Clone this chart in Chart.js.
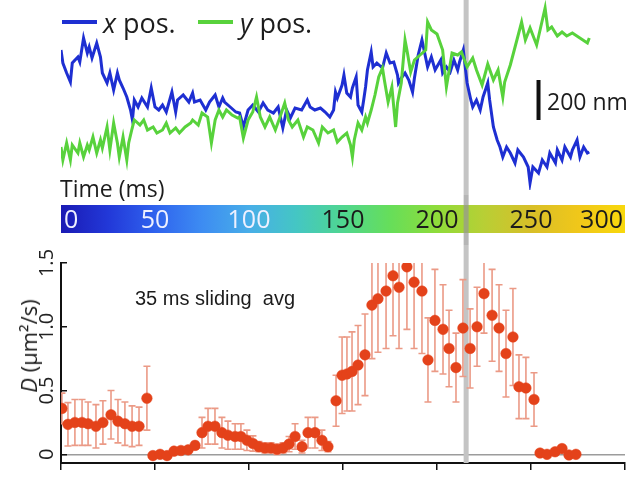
<!DOCTYPE html>
<html>
<head>
<meta charset="utf-8">
<script src="https://cdn.jsdelivr.net/npm/chart.js@4.4.0/dist/chart.umd.min.js"></script>
<style>
  html, body { margin: 0; padding: 0; background: #fff; }
  #fig { position: relative; width: 631px; height: 481px; overflow: hidden;
         font-family: "Open Sans", sans-serif; color: #1c1c1c; }
  #fig canvas { position: absolute; left: 0; }
  .lbl { position: absolute; white-space: pre; line-height: 1; }
  .key { position: absolute; height: 4px; }
</style>
</head>
<body>
<div id="fig">
  <canvas id="traces" width="631" height="195" style="top:0;width:631px;height:195px"></canvas>
  <canvas id="cbar" width="631" height="50" style="top:195px;width:631px;height:50px"></canvas>
  <canvas id="diff" width="631" height="236" style="top:245px;width:631px;height:236px"></canvas>

  <div class="key" style="left:62px;top:20px;width:35px;background:#1e2fd2"></div>
  <div class="lbl" style="left:103px;top:9px;font-size:27px"><i>x</i> pos.</div>
  <div class="key" style="left:198px;top:20px;width:35px;background:#58d23c"></div>
  <div class="lbl" style="left:240px;top:9px;font-size:27px"><i>y</i> pos.</div>

  <div class="lbl" style="left:547px;top:90px;font-size:23px">200 nm</div>
  <div class="lbl" style="left:60px;top:177px;font-size:23px">Time (ms)</div>
  <div class="lbl" style="left:135px;top:288px;font-size:20px;font-family:'Liberation Sans',Arial,sans-serif">35 ms sliding  avg</div>
  <div class="lbl" style="left:28px;top:346px;font-size:22px;transform:translate(-50%,-50%) rotate(-90deg)"><i>D</i> (μm²/s)</div>
</div>

<script>
// ---- trajectory: x and y position (nm) against time (ms) ----
const xPosTime = [0,1,3,5,6,9,10,12,14,15,16.5,19,21,22,24.5,26,28,30,31,33,
  35,37,38,39,41,43,46,48,50,52,54,56,59,61,62,65,68,70,71,74,
  77,79,82,84,86,87,90,93,95,97,99.5,102,105,107.5,110,113,115.5,118,120,122,
  124.5,128,131,132.5,135,138,140.5,143,145,146,147,149.5,150.5,152,154,155,157,158,160,161,
  162,163,165,166,168,171,173,175,177,179,179.5,181,183,185,187,188,190,192,195,197,
  199,202,203,205,207,209,211,212,214,216,218,219,221,223,224.5,227,228,230,232,233.5,
  235,237,239,241.5,243,246,248.5,249.5,251,254,256,258.5,260,263,264,266.5,268,271,272,274.5,
  276,278,280,281];
const xPosNm = [700,635,585,540,635,665,640,760,685,715,660,735,665,585,535,585,500,585,550,510,
  465,400,350,450,415,460,415,510,415,400,425,390,490,390,450,475,440,485,440,450,
  400,440,475,415,460,440,415,390,385,315,400,425,390,435,400,385,415,310,400,360,
  410,400,450,415,400,410,390,365,400,490,460,525,575,485,465,510,565,425,390,450,
  515,600,690,615,635,610,685,635,640,575,535,560,585,550,490,560,675,750,615,665,
  600,650,585,615,590,650,600,640,700,535,450,415,450,400,465,535,450,315,250,215,
  165,215,185,135,200,165,115,35,115,85,150,115,185,135,200,150,215,165,200,250,
  165,215,185,190];

const yPosTime = [0,1,3,5,6,9,10,12,14,15,17,19,21,22,24.5,26,28,30,31,33,
  35,36,38,39,42,44,46,49,51,54,56,58,61,63,66,69,70,73,75,78,
  80,82,84,86,88,91,94,95,97,99.5,102,104,106,108.5,111,114,116.5,119,121,123,
  126,129,131,134,137,139,142,145,147,149.5,152,154,155,156,158,160,162,163,165,167,
  169,171,172,174,176,178,179,181,183,184,186,188,191,194,195,197,200,203,205,208,
  211,213,216,219,221,224,227,230,232.5,235,236,239,242.5,245,247,249.5,253,257.5,259,261,
  264,266.5,269,272,276,280,281];
const yPosNm = [215,150,235,150,225,185,235,165,225,200,265,185,250,210,315,200,335,235,165,265,
  150,235,315,350,325,350,300,315,285,300,335,285,310,285,315,335,350,325,385,365,
  235,350,400,365,400,375,360,365,260,350,390,465,365,315,365,300,365,435,350,315,
  350,265,315,300,235,315,285,300,240,265,285,225,165,250,335,300,365,335,400,475,
  565,610,550,440,515,315,435,535,750,700,590,650,675,700,840,800,780,700,515,685,
  675,690,615,660,600,525,630,550,600,465,540,625,750,840,750,810,725,910,800,815,
  770,790,770,785,760,735,760];

// ---- diffusion coefficient, 35 ms sliding average ----
const dTime = [0.5,3.7,7.4,11.2,14.4,18.6,22.3,26.6,30.3,34.0,37.8,41.5,45.7,
  48.9,52.7,56.4,60.1,63.8,67.6,71.3,75.0,78.2,81.9,85.6,88.8,92.6,95.7,98.9,102.1,105.3,108.5,
  111.7,114.9,118.1,121.3,124.5,128.2,131.4,135.1,138.8,142.0,
  146.3,149.5,152.1,154.8,158.0,161.7,165.4,168.6,172.9,176.6,179.8,184.0,187.8,192.0,195.2,
  198.9,203.2,206.4,210.1,213.8,217.6,221.3,225.0,229.3,233.0,236.7,240.4,243.6,247.3,251.6,
  254.8,258.5,262.8,266.5,270.2,273.9];
const dValue = [0.36,0.235,0.25,0.25,0.24,0.22,0.25,0.31,0.26,0.24,0.22,0.22,0.44,
  -0.01,0.0,-0.01,0.025,0.03,0.035,0.07,0.17,0.22,0.22,0.17,0.15,0.14,0.14,0.11,0.085,0.06,0.05,
  0.05,0.04,0.05,0.08,0.14,0.06,0.17,0.17,0.11,0.06,
  0.42,0.62,0.63,0.65,0.70,0.78,1.17,1.22,1.28,1.40,1.31,1.47,1.35,1.28,0.74,
  1.05,0.98,0.83,0.68,0.99,0.83,1.00,1.26,1.09,0.99,0.79,0.92,0.53,0.52,0.43,
  0.01,0.0,0.02,0.045,-0.005,0.0];
const dErr = [0.12,0.17,0.18,0.18,0.17,0.17,0.17,0.19,0.17,0.17,0.16,0.15,0.25,
  0.01,0.01,0.01,0.015,0.02,0.02,0.03,0.12,0.14,0.14,0.12,0.11,0.1,0.1,0.08,0.06,0.04,0.04,
  0.04,0.04,0.04,0.06,0.1,0.05,0.12,0.12,0.08,0.04,
  0.2,0.3,0.29,0.31,0.31,0.32,0.42,0.42,0.45,0.47,0.48,0.49,0.52,0.49,0.33,
  0.40,0.35,0.30,0.27,0.38,0.31,0.31,0.31,0.36,0.34,0.34,0.38,0.25,0.24,0.21,
  0,0,0,0,0,0];
const dTicks = [0, 0.5, 1, 1.5];
const timeTicks = [0, 50, 100, 150, 200, 250, 300];

// ---- colour scale for time ----
const cbarStops = [0, 25, 50, 75, 100, 125, 150, 175, 200, 225, 250, 275, 300];
const cbarColors = ['#1a1ab4','#2238d8','#2f62ee','#3d8cf2','#48aee8','#44c6c4','#4fd690',
  '#66de5a','#8fdc3a','#b8cf35','#d8bf28','#f0c71a','#f8d80c'];

// time of the highlighted frame, and the 200 nm scale bar
const markTime = 215.5;
const scaleBarTime = 254;
const scaleBarBase = 350;
const scaleBarLength = 200;

const T_MIN = 0, T_MAX = 300;

// vertical gray marker at markTime
const markerLine = {
  id: 'markerLine',
  beforeDatasetsDraw(chart, args, opts) { if (!opts.front) drawMarker(chart, opts); },
  afterDatasetsDraw(chart, args, opts) { if (opts.front) drawMarker(chart, opts); }
};
function drawMarker(chart, opts) {
  const x = chart.scales.x.getPixelForValue(markTime);
  const c = chart.ctx;
  c.save();
  c.strokeStyle = opts.color;
  c.lineWidth = 5;
  c.beginPath();
  c.moveTo(x, 0);
  c.lineTo(x, opts.toAxis ? chart.chartArea.bottom : chart.height);
  c.stroke();
  c.restore();
}

// 200 nm scale bar
const scaleBar = {
  id: 'scaleBar',
  afterDatasetsDraw(chart) {
    const {ctx, scales: {x, y}} = chart;
    const px = x.getPixelForValue(scaleBarTime);
    ctx.save();
    ctx.strokeStyle = '#111';
    ctx.lineWidth = 4;
    ctx.beginPath();
    ctx.moveTo(px, y.getPixelForValue(scaleBarBase));
    ctx.lineTo(px, y.getPixelForValue(scaleBarBase + scaleBarLength));
    ctx.stroke();
    ctx.restore();
  }
};

// time labels written inside the colour bar, placed by the x scale
const cbarLabels = {
  id: 'cbarLabels',
  afterDatasetsDraw(chart) {
    const {ctx, chartArea, scales: {x}} = chart;
    ctx.save();
    ctx.font = '25px "Open Sans", sans-serif';
    ctx.textBaseline = 'alphabetic';
    timeTicks.forEach((v, i) => {
      let px = x.getPixelForValue(v);
      if (i === 0) { ctx.textAlign = 'left'; px += 3; }
      else if (i === timeTicks.length - 1) { ctx.textAlign = 'right'; px -= 2; }
      else ctx.textAlign = 'center';
      ctx.fillStyle = v <= 100 ? '#eef0ff' : '#1b1b1b';
      ctx.fillText(String(v), px, chartArea.bottom - 5);
    });
    ctx.restore();
  }
};

// symmetric error bars with caps
const errorBars = {
  id: 'errorBars',
  beforeDatasetsDraw(chart) {
    const {ctx, chartArea, scales: {x, y}} = chart;
    ctx.save();
    ctx.beginPath();
    ctx.rect(chartArea.left, chartArea.top, chartArea.width, chartArea.height);
    ctx.clip();
    ctx.strokeStyle = '#eb9a86';
    ctx.lineWidth = 1.6;
    dTime.forEach((t, i) => {
      const e = dErr[i];
      if (!e) return;
      const px = x.getPixelForValue(t);
      const lo = y.getPixelForValue(dValue[i] - e);
      const hi = y.getPixelForValue(dValue[i] + e);
      ctx.beginPath();
      ctx.moveTo(px, lo); ctx.lineTo(px, hi);
      ctx.moveTo(px - 3.5, lo); ctx.lineTo(px + 3.5, lo);
      ctx.moveTo(px - 3.5, hi); ctx.lineTo(px + 3.5, hi);
      ctx.stroke();
    });
    ctx.restore();
  }
};

Chart.defaults.font.family = '"Open Sans", sans-serif';
Chart.defaults.color = '#1c1c1c';

// ---- trajectory traces ----
new Chart(document.getElementById('traces'), {
  type: 'line',
  data: {
    datasets: [
      { label: 'y pos.', data: yPosTime.map((t, i) => ({x: t, y: yPosNm[i]})),
        borderColor: '#58d23c', borderWidth: 3, pointRadius: 0, tension: 0 },
      { label: 'x pos.', data: xPosTime.map((t, i) => ({x: t, y: xPosNm[i]})),
        borderColor: '#1e2fd2', borderWidth: 3, pointRadius: 0, tension: 0 }
    ]
  },
  options: {
    responsive: false, animation: false, events: [],
    layout: { padding: { left: 61, right: 6, top: 0, bottom: 5 } },
    plugins: { legend: { display: false }, tooltip: { enabled: false },
               markerLine: { color: '#c4c4c4', front: false, toAxis: false } },
    scales: {
      x: { type: 'linear', min: T_MIN, max: T_MAX, display: false },
      y: { type: 'linear', min: 0, max: 950, display: false }
    }
  },
  plugins: [markerLine, scaleBar]
});

// ---- time colour bar ----
new Chart(document.getElementById('cbar'), {
  type: 'bar',
  data: {
    labels: ['time'],
    datasets: [{
      data: [[T_MIN, T_MAX]],
      barPercentage: 1, categoryPercentage: 1, borderWidth: 0,
      backgroundColor(ctx) {
        const chart = ctx.chart;
        if (!chart.chartArea) return '#888';
        const xs = chart.scales.x;
        const g = chart.ctx.createLinearGradient(xs.getPixelForValue(T_MIN), 0, xs.getPixelForValue(T_MAX), 0);
        cbarStops.forEach((s, i) => g.addColorStop((s - T_MIN) / (T_MAX - T_MIN), cbarColors[i]));
        return g;
      }
    }]
  },
  options: {
    indexAxis: 'y', responsive: false, animation: false, events: [],
    layout: { padding: { left: 61, right: 6, top: 10, bottom: 12 } },
    plugins: { legend: { display: false }, tooltip: { enabled: false },
               markerLine: { color: 'rgba(150,150,150,0.7)', front: true, toAxis: false } },
    scales: {
      x: { type: 'linear', min: T_MIN, max: T_MAX, display: false },
      y: { display: false }
    }
  },
  plugins: [markerLine, cbarLabels]
});

// ---- diffusion coefficient ----
new Chart(document.getElementById('diff'), {
  type: 'scatter',
  data: {
    datasets: [{
      data: dTime.map((t, i) => ({x: t, y: dValue[i]})),
      backgroundColor: '#e4421a', borderColor: '#e4421a',
      pointRadius: 5.3, pointBorderWidth: 0.5
    }]
  },
  options: {
    responsive: false, animation: false, events: [],
    layout: { padding: { left: 21, right: 6, top: 18, bottom: 0 } },
    plugins: { legend: { display: false }, tooltip: { enabled: false },
               markerLine: { color: '#c4c4c4', front: false, toAxis: true } },
    scales: {
      x: {
        type: 'linear', min: T_MIN, max: T_MAX,
        afterBuildTicks(scale) { scale.ticks = timeTicks.map(v => ({value: v})); },
        afterFit(scale) { scale.height = 11; },
        grid: { drawOnChartArea: false, drawTicks: true, tickLength: 7, tickColor: '#111', lineWidth: 1.5 },
        border: { color: '#111', width: 2 },
        ticks: { display: false }
      },
      y: {
        type: 'linear', min: -0.068, max: 1.5,
        afterBuildTicks(scale) { scale.ticks = dTicks.map(v => ({value: v})); },
        afterFit(scale) { scale.width = 40; },
        grid: {
          drawOnChartArea: true, drawTicks: true, tickLength: -6, tickColor: '#111', lineWidth: 1.5,
          color: (c) => (c.tick && c.tick.value === 0 ? '#9c9c9c' : 'rgba(0,0,0,0)')
        },
        border: { color: '#111', width: 2 },
        ticks: {
          minRotation: 90, maxRotation: 90, crossAlign: 'center', padding: 6,
          font: { size: 20 }, color: '#222'
        }
      }
    }
  },
  plugins: [markerLine, errorBars]
});
</script>
</body>
</html>
